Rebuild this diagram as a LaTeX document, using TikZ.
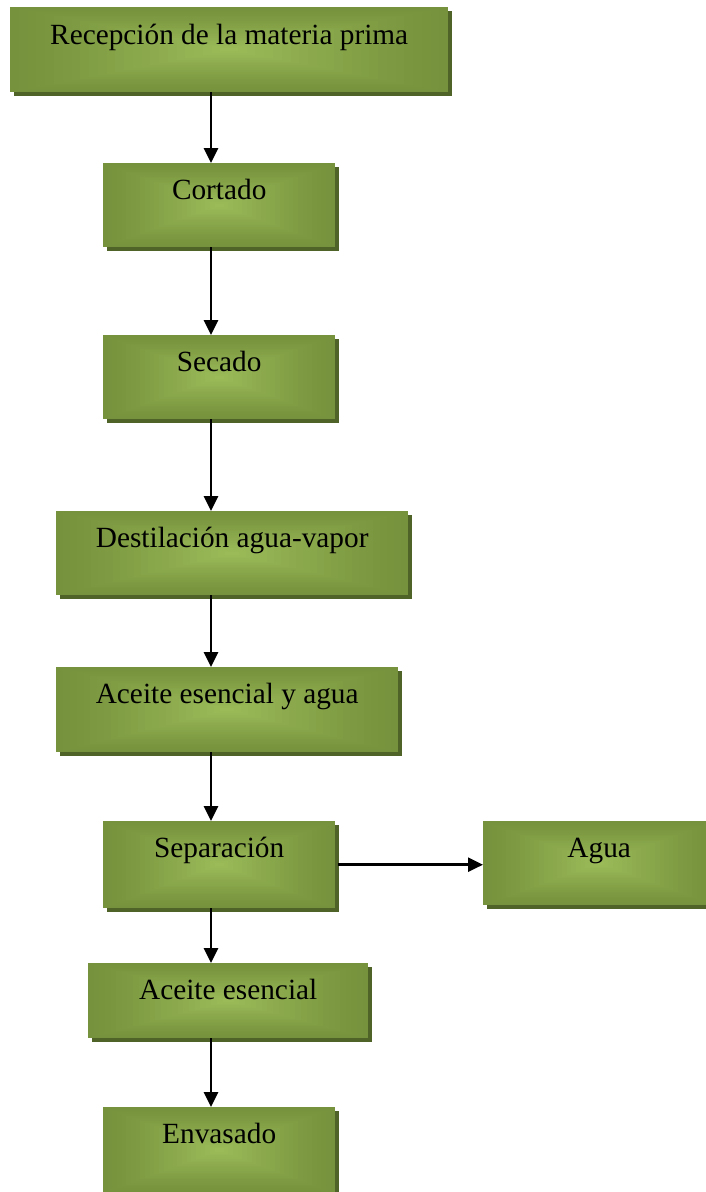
\documentclass[tikz,border=0pt]{standalone}
\usepackage{fontspec}
\setmainfont{Liberation Serif}
\usetikzlibrary{shadows,calc,arrows.meta}
\definecolor{lite}{HTML}{9BBB59}
\definecolor{edge}{HTML}{76923C}
\definecolor{shad}{HTML}{4F6228}
\tikzset{
  fbox/.style={rectangle, inner sep=0pt, draw=none, anchor=north west, fill=edge,
    drop shadow={shadow xshift=3.5pt, shadow yshift=-3.5pt, fill=shad, opacity=1},
    path picture={
      \foreach \i in {1,...,24}{
        \pgfmathsetmacro{\f}{\i/25}
        \pgfmathsetmacro{\p}{100*(\i/24)^1.2}
        \fill[lite!\p!edge]
          ($(path picture bounding box.south west)!\f!(path picture bounding box.center)$)
          rectangle
          ($(path picture bounding box.north east)!\f!(path picture bounding box.center)$);
      }
    }},
  lbl/.style={anchor=base, inner sep=0pt, font=\fontsize{29.3}{34}\selectfont},
  arr/.style={line width=2.6pt, -{Triangle[length=15pt,width=14pt]}}
}
\begin{document}
\begin{tikzpicture}[x=1pt,y=-1pt]
\useasboundingbox (0,0) rectangle (706,1192);
\clip (0,0) rectangle (706,1192);
\coordinate (ax) at (211,0);
\node[fbox, minimum width=438pt, minimum height=85pt] (r1) at (10,7) {};
\node[fbox, minimum width=232pt, minimum height=84pt] (r2) at (103,163) {};
\node[fbox, minimum width=232pt, minimum height=84pt] (r3) at (103,335) {};
\node[fbox, minimum width=352pt, minimum height=84pt] (r4) at (56,511) {};
\node[fbox, minimum width=342pt, minimum height=85pt] (r5) at (56,667) {};
\node[fbox, minimum width=232pt, minimum height=87pt] (r6) at (103,821) {};
\node[fbox, minimum width=232pt, minimum height=84pt] (r7) at (483,821) {};
\node[fbox, minimum width=280pt, minimum height=75pt] (r8) at (88,963) {};
\node[fbox, minimum width=232pt, minimum height=86pt] (r9) at (103,1107) {};
\node[lbl] (t1) at ($(r1.north)+(0,37)$) {Recepción de la materia prima};
\node[lbl] (t2) at ($(r2.north)+(0,36)$) {Cortado};
\node[lbl] (t3) at ($(r3.north)+(0,36)$) {Secado};
\node[lbl] (t4) at ($(r4.north)+(0,36)$) {Destilación agua-vapor};
\node[lbl] (t5) at ($(r5.north)+(0,36)$) {Aceite esencial y agua};
\node[lbl] (t6) at ($(r6.north)+(0,36)$) {Separación};
\node[lbl] (t7) at ($(r7.north)+(0,36)$) {Agua};
\node[lbl] (t8) at ($(r8.north)+(0,36)$) {Aceite esencial};
\node[lbl] (t9) at ($(r9.north)+(0,36)$) {Envasado};
\draw[arr] (r1.south -| ax) -- (r2.north -| ax);
\draw[arr] (r2.south -| ax) -- (r3.north -| ax);
\draw[arr] (r3.south -| ax) -- (r4.north -| ax);
\draw[arr] (r4.south -| ax) -- (r5.north -| ax);
\draw[arr] (r5.south -| ax) -- (r6.north -| ax);
\draw[arr] (r6.south -| ax) -- (r8.north -| ax);
\draw[arr] (r8.south -| ax) -- (r9.north -| ax);
\draw[arr] ($(r6.east)+(3,0)$) -- (r6.east -| r7.west);
\end{tikzpicture}
\end{document}
